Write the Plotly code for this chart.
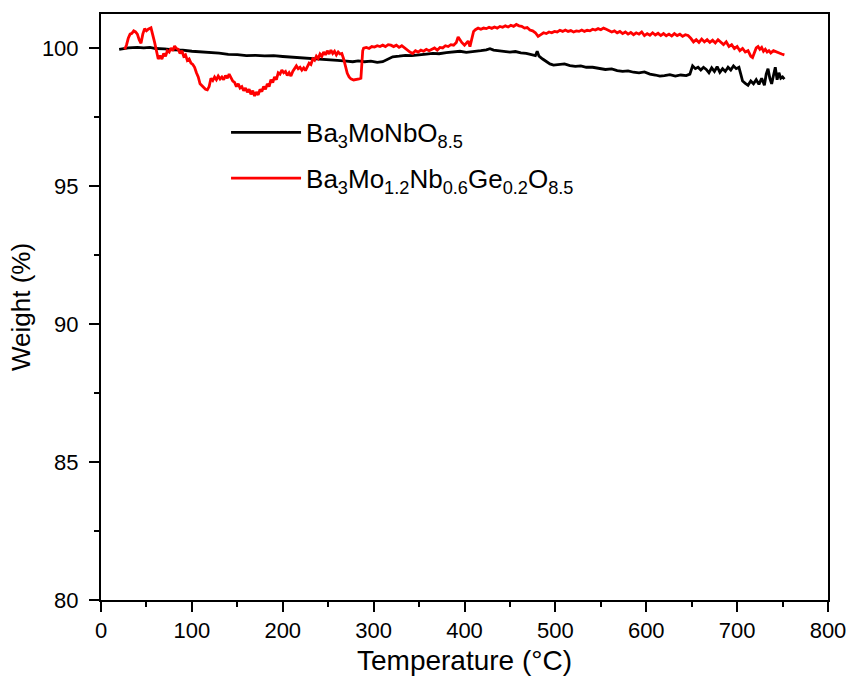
import plotly.graph_objects as go

# Ba3MoNbO8.5 (black) : temperature (°C), weight (%)
t_black = [20, 25, 30, 35, 40, 47, 54, 60, 70, 80, 90, 100, 110, 120, 130, 140, 150, 160, 170,
           180, 190, 200, 210, 220, 230, 240, 250, 260, 270, 277, 283, 290, 297, 304, 310, 313,
           317, 321, 328, 335, 342, 350, 358, 365, 372, 380, 388, 395, 402, 410, 418, 424, 428,
           432, 438, 444, 450, 456, 462, 468, 474, 478, 480, 482, 486, 490, 494, 498, 504, 510,
           516, 522, 528, 534, 541, 548, 555, 562, 568, 574, 580, 586, 592, 598, 604, 610, 615,
           620, 626, 632, 638, 644, 648, 651, 654, 657, 660, 663, 666, 669, 672, 675, 678, 681,
           684, 687, 690, 693, 696, 699, 702, 704, 706, 709, 712, 715, 718, 721, 724, 727, 730,
           732, 734, 736, 738, 740, 742, 744, 746, 748, 750, 752]
w_black = [99.95, 99.98, 100.0, 100.01, 100.02, 100.0, 100.02, 99.98, 99.97, 99.93, 99.92, 99.88,
           99.86, 99.82, 99.81, 99.77, 99.76, 99.72, 99.73, 99.71, 99.72, 99.69, 99.67, 99.64,
           99.62, 99.6, 99.57, 99.55, 99.52, 99.5, 99.53, 99.5, 99.52, 99.48, 99.5, 99.55, 99.62,
           99.68, 99.7, 99.73, 99.72, 99.76, 99.78, 99.8, 99.79, 99.83, 99.85, 99.88, 99.84,
           99.86, 99.9, 99.93, 99.97, 99.92, 99.9, 99.88, 99.85, 99.87, 99.82, 99.8, 99.75, 99.72,
           99.88, 99.7, 99.6, 99.5, 99.42, 99.38, 99.4, 99.42, 99.36, 99.33, 99.35, 99.3, 99.3,
           99.27, 99.22, 99.24, 99.18, 99.15, 99.17, 99.12, 99.1, 99.13, 99.05, 99.02, 98.98,
           99.0, 99.03, 98.98, 99.02, 99.0, 99.05, 99.35, 99.25, 99.3, 99.2, 99.3, 99.22, 99.1,
           99.28, 99.15, 99.32, 99.12, 99.25, 99.15, 99.3, 99.2, 99.35, 99.25, 99.3, 99.05, 98.8,
           98.72, 98.65, 98.8, 98.7, 98.85, 98.68, 98.9, 98.65, 99.05, 99.25, 98.9, 98.7, 99.0,
           99.3, 98.85, 99.1, 98.9, 98.95, 98.87]

# Ba3Mo1.2Nb0.6Ge0.2O8.5 (red) : temperature (°C), weight (%)
t_red = [26, 28, 30, 32, 34, 36, 38, 40, 42, 44, 46, 48, 50, 52, 55, 57, 59, 61, 63, 65, 67, 69,
         71, 73, 75, 77, 79, 81, 83, 85, 87, 89, 91, 93, 95, 97, 99, 101, 103, 105, 107, 109,
         111, 113, 115, 117, 119, 121, 123, 125, 127, 129, 131, 133, 135, 137, 139, 141, 143,
         145, 147, 149, 151, 153, 155, 157, 159, 161, 163, 165, 167, 169, 171, 173, 175, 177,
         179, 181, 183, 185, 187, 189, 191, 193, 195, 197, 199, 201, 203, 205, 207, 209, 211,
         213, 215, 217, 219, 221, 223, 225, 227, 229, 231, 233, 235, 237, 239, 241, 243, 245,
         247, 249, 251, 253, 255, 257, 259, 261, 263, 265, 267, 269, 271, 273, 275, 278, 281,
         284, 286, 287, 288, 289, 292, 295, 298, 301, 304, 307, 310, 313, 316, 319, 322, 325,
         328, 331, 334, 337, 340, 343, 346, 349, 352, 355, 358, 361, 364, 367, 370, 373, 376,
         379, 382, 385, 388, 391, 393, 395, 397, 400, 402, 404, 406, 408, 410, 412, 415, 418,
         421, 424, 427, 430, 433, 436, 439, 442, 445, 448, 451, 454, 457, 460, 463, 466, 469,
         472, 475, 478, 481, 484, 487, 490, 493, 496, 499, 502, 505, 508, 511, 514, 517, 520,
         523, 526, 529, 532, 535, 538, 541, 544, 547, 550, 553, 556, 559, 562, 565, 568, 571,
         574, 577, 580, 583, 586, 589, 592, 595, 598, 601, 604, 607, 610, 613, 616, 619, 622,
         625, 628, 631, 634, 637, 640, 643, 646, 649, 652, 655, 658, 661, 664, 667, 670, 673,
         676, 679, 682, 685, 688, 691, 694, 697, 700, 703, 706, 709, 712, 715, 717, 719, 721,
         723, 725, 727, 729, 731, 733, 735, 737, 740, 743, 746, 749, 752]
w_red = [99.95, 100.1, 100.35, 100.5, 100.53, 100.62, 100.58, 100.5, 100.3, 100.17, 100.5, 100.7,
         100.62, 100.68, 100.73, 100.5, 100.2, 99.9, 99.6, 99.72, 99.6, 99.8, 99.7, 99.9, 99.85,
         100.0, 99.9, 100.07, 99.98, 99.95, 99.8, 99.9, 99.7, 99.75, 99.55, 99.6, 99.45, 99.4,
         99.3, 99.1, 98.95, 98.7, 98.62, 98.55, 98.5, 98.48, 98.6, 98.9, 98.82, 98.95, 98.85,
         98.98, 98.88, 98.95, 98.85, 99.0, 98.9, 99.05, 98.9, 98.8, 98.75, 98.6, 98.7, 98.55,
         98.6, 98.45, 98.55, 98.4, 98.5, 98.32, 98.45, 98.26, 98.4, 98.3, 98.5, 98.42, 98.6,
         98.5, 98.7, 98.6, 98.85, 98.75, 98.95, 98.85, 99.1, 99.05, 99.2, 99.1, 99.15, 99.0,
         99.1, 98.98, 99.15, 99.25, 99.35, 99.25, 99.3, 99.2, 99.28, 99.18, 99.3, 99.45, 99.4,
         99.6, 99.55, 99.7, 99.62, 99.78, 99.7, 99.85, 99.75, 99.9, 99.78, 99.92, 99.8, 99.88,
         99.75, 99.85, 99.78, 99.8, 99.6, 99.3, 99.08, 98.95, 98.88, 98.84, 98.85, 98.88, 98.9,
         99.5, 99.9, 99.99, 100.02, 99.98, 100.05, 100.03, 100.08, 100.05, 100.1, 100.05, 100.12,
         100.1, 100.05, 100.1, 100.02, 100.08, 100.0, 99.95, 99.85, 99.8, 99.9, 99.85, 99.92,
         99.88, 99.95, 99.9, 99.95, 100.0, 99.92, 100.02, 100.0, 100.08, 100.05, 100.12, 100.1,
         100.2, 100.4, 100.28, 100.2, 100.1, 100.18, 100.25, 100.05, 100.35, 100.6, 100.66,
         100.72, 100.68, 100.72, 100.7, 100.75, 100.71, 100.76, 100.72, 100.78, 100.75, 100.8,
         100.76, 100.82, 100.78, 100.85, 100.8, 100.78, 100.72, 100.74, 100.65, 100.62, 100.55,
         100.42, 100.48, 100.55, 100.52, 100.58, 100.55, 100.6, 100.58, 100.64, 100.6, 100.65,
         100.6, 100.63, 100.58, 100.62, 100.6, 100.65, 100.6, 100.64, 100.62, 100.68, 100.65,
         100.7, 100.66, 100.72, 100.68, 100.62, 100.58, 100.62, 100.55, 100.6, 100.52, 100.58,
         100.5, 100.56, 100.48, 100.55, 100.5, 100.58, 100.45, 100.52, 100.46, 100.55, 100.47,
         100.53, 100.45, 100.52, 100.44, 100.5, 100.43, 100.52, 100.45, 100.5, 100.42, 100.48,
         100.45, 100.35, 100.22, 100.3, 100.2, 100.32, 100.22, 100.3, 100.2, 100.28, 100.18,
         100.3, 100.2, 100.12, 100.22, 100.05, 100.12, 99.98, 100.05, 99.9, 99.98, 99.85, 99.9,
         99.7, 99.65, 99.8, 100.0, 100.05, 99.95, 100.02, 99.88, 99.95, 99.85, 99.9, 99.82, 99.9,
         99.85, 99.82, 99.78, 99.75]

FONT = "Arial, Liberation Sans, sans-serif"

fig = go.Figure()
fig.add_trace(go.Scatter(x=t_black, y=w_black, mode="lines",
                         line=dict(color="black", width=2.8), legendgroup="a",
                         name="Ba<sub>3</sub>MoNbO<sub>8.5</sub>"))
fig.add_trace(go.Scatter(x=t_red, y=w_red, mode="lines",
                         line=dict(color="#ff0000", width=2.8), legendgroup="b",
                         name="Ba<sub>3</sub>Mo<sub>1.2</sub>Nb<sub>0.6</sub>Ge<sub>0.2</sub>O<sub>8.5</sub>"))

axis_common = dict(showline=True, linecolor="black", linewidth=2, mirror=True,
                   ticks="outside", ticklen=10, tickwidth=2, tickcolor="black",
                   showgrid=False, zeroline=False, automargin=False,
                   tickfont=dict(family=FONT, size=22, color="black"))

fig.update_xaxes(range=[0, 800], dtick=100,
                 title=dict(text="Temperature (°C)", font=dict(family=FONT, size=28, color="black"), standoff=8),
                 minor=dict(ticks="outside", ticklen=5, tickwidth=2, tickcolor="black", dtick=50),
                 **axis_common)
fig.update_yaxes(range=[80, 101.23], dtick=5, ticklabelstandoff=6,
                 title=dict(text="Weight (%)", font=dict(family=FONT, size=26, color="black"), standoff=4),
                 minor=dict(ticks="outside", ticklen=5, tickwidth=2, tickcolor="black", dtick=2.5),
                 **axis_common)

fig.update_layout(
    width=853, height=684,
    margin=dict(l=101, r=25, t=14, b=84),
    plot_bgcolor="white", paper_bgcolor="white",
    legend=dict(x=0.172, y=0.838, xanchor="left", yanchor="top",
                font=dict(family=FONT, size=26, color="black"),
                bgcolor="rgba(0,0,0,0)", tracegroupgap=9, itemwidth=70),
    showlegend=True,
)

fig.write_html("out.html", config={"displayModeBar": False},
               post_script="document.body.style.margin='0';document.body.style.padding='0';")
